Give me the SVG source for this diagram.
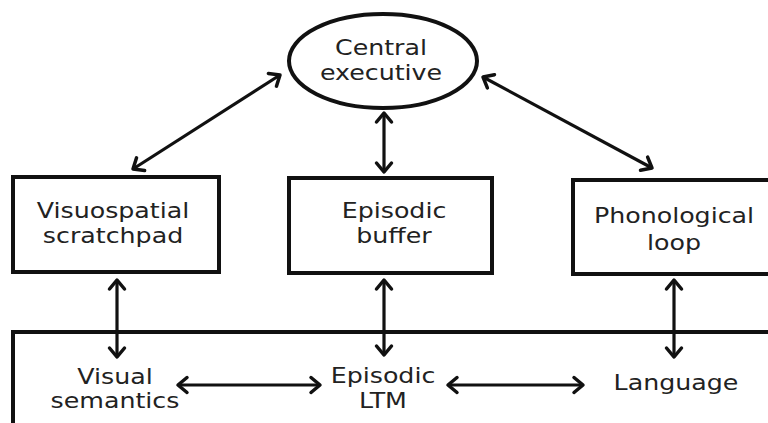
<svg xmlns="http://www.w3.org/2000/svg" width="768" height="423" viewBox="0 0 768 423">
<style>
.box{fill:#fff;stroke:#111;stroke-width:4}
.lbl{font-family:"DejaVu Sans",Verdana,sans-serif;font-size:22px;fill:#222;text-anchor:middle}
.arr{stroke:#111;stroke-width:3.2;fill:none;marker-start:url(#ah);marker-end:url(#ah)}
</style>
<defs>
<marker id="ah" markerUnits="userSpaceOnUse" markerWidth="30" markerHeight="30" refX="0" refY="0" viewBox="-15 -15 30 30" orient="auto-start-reverse" overflow="visible">
<path d="M-9,-7.5 L0,0 L-9,7.5" fill="none" stroke="#111" stroke-width="3.5" stroke-linecap="round" stroke-linejoin="round"/>
</marker>
</defs>
<rect width="768" height="423" fill="#fff"/>
<g id="ltm">
<rect class="box" x="13" y="332" width="770" height="120"/>
</g>
<g id="central">
<ellipse cx="383" cy="61" rx="94" ry="47" fill="#fff" stroke="#111" stroke-width="4"/>
<g transform="translate(381 0) scale(1.15 1)"><text class="lbl" x="0" y="55">Central</text><text class="lbl" x="0" y="80">executive</text></g>
</g>
<g id="visuo">
<rect class="box" x="13" y="177" width="206" height="95"/>
<g transform="translate(113 0) scale(1.15 1)"><text class="lbl" x="0" y="218">Visuospatial</text><text class="lbl" x="0" y="243">scratchpad</text></g>
</g>
<g id="buffer">
<rect class="box" x="289" y="178" width="203" height="95"/>
<g transform="translate(394 0) scale(1.15 1)"><text class="lbl" x="0" y="218">Episodic</text><text class="lbl" x="0" y="243">buffer</text></g>
</g>
<g id="phono">
<rect class="box" x="573" y="180" width="215" height="94"/>
<g transform="translate(674 0) scale(1.15 1)"><text class="lbl" x="0" y="223">Phonological</text><text class="lbl" x="0" y="250">loop</text></g>
</g>
<g id="visual-sem">
<g transform="translate(115 0) scale(1.15 1)"><text class="lbl" x="0" y="384">Visual</text><text class="lbl" x="0" y="408">semantics</text></g>
</g>
<g id="episodic-ltm">
<g transform="translate(383 0) scale(1.15 1)"><text class="lbl" x="0" y="383">Episodic</text><text class="lbl" x="0" y="408">LTM</text></g>
</g>
<g id="language">
<g transform="translate(676 0) scale(1.15 1)"><text class="lbl" x="0" y="390">Language</text></g>
</g>
<g id="connectors">
<line class="arr" x1="133" y1="169" x2="280" y2="75"/>
<line class="arr" x1="384" y1="113" x2="384" y2="172"/>
<line class="arr" x1="483" y1="77" x2="652" y2="168"/>
<line class="arr" x1="117" y1="280" x2="117" y2="357"/>
<line class="arr" x1="384" y1="280" x2="384" y2="355"/>
<line class="arr" x1="674" y1="280" x2="674" y2="357"/>
<line class="arr" x1="178" y1="385" x2="320" y2="385"/>
<line class="arr" x1="448" y1="385" x2="583" y2="385"/>
</g>
</svg>
